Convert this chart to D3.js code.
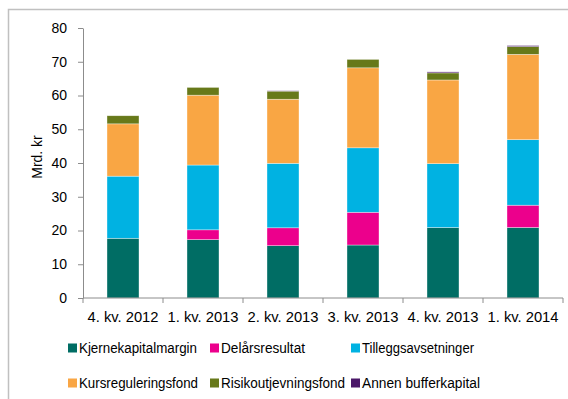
<!DOCTYPE html>
<html>
<head>
<meta charset="utf-8">
<script src="https://cdn.jsdelivr.net/npm/d3@7"></script>
<style>
  body { margin: 0; background: #fff; }
  svg { display: block; font-family: "Liberation Sans", Arial, sans-serif; }
</style>
</head>
<body>
<svg id="chart" width="568" height="399"></svg>
<script>
// Quarters on the x axis
const categories = ["4. kv. 2012", "1. kv. 2013", "2. kv. 2013", "3. kv. 2013", "4. kv. 2013", "1. kv. 2014"];

// Components of buffer capital, billion NOK
const kjernekapitalmargin = [17.7, 17.3, 15.5, 15.7, 20.9, 20.9];
const delarsresultat      = [0.0, 2.9, 5.3, 9.7, 0.0, 6.6];
const tilleggsavsetninger = [18.4, 19.2, 19.1, 19.1, 18.9, 19.4];
const kursreguleringsfond = [15.5, 20.7, 19.0, 23.7, 24.8, 25.3];
const risikoutjevningsfond = [2.4, 2.3, 2.4, 2.5, 2.1, 2.3];
const annenBufferkapital  = [0.0, 0.0, 0.1, 0.0, 0.3, 0.3];

const seriesNames = ["Kjernekapitalmargin", "Delårsresultat", "Tilleggsavsetninger",
                     "Kursreguleringsfond", "Risikoutjevningsfond", "Annen bufferkapital"];
const seriesValues = [kjernekapitalmargin, delarsresultat, tilleggsavsetninger,
                      kursreguleringsfond, risikoutjevningsfond, annenBufferkapital];
const seriesColors = ["#006d64", "#ec008c", "#00b2e2", "#f9a644", "#67791a", "#4b1869"];

const yTicks = [0, 10, 20, 30, 40, 50, 60, 70, 80];

const rows = categories.map((c, i) => {
  const r = { cat: c };
  seriesNames.forEach((s, j) => r[s] = seriesValues[j][i]);
  return r;
});

const svg = d3.select("#chart");

// outer frame
svg.append("path")
  .attr("d", "M8.5,399 V9.5 H568")
  .attr("fill", "none").attr("stroke", "#c0c0c0").attr("stroke-width", 1.5);

const x = d3.scaleBand().domain(categories).range([83, 563]).paddingInner(0.6).paddingOuter(0.3);
const y = d3.scaleLinear().domain([0, 80]).range([298, 28]);

const stacked = d3.stack().keys(seriesNames)(rows);

svg.append("g").selectAll("g")
  .data(stacked).join("g")
  .attr("fill", (d, i) => seriesColors[i])
  .selectAll("rect")
  .data(d => d.filter(p => p[1] - p[0] > 0))
  .join("rect")
  .attr("x", d => x(d.data.cat))
  .attr("width", x.bandwidth())
  .attr("y", d => y(d[1]))
  .attr("height", d => y(d[0]) - y(d[1]))
  .attr("stroke", "rgba(255,255,255,0.6)")
  .attr("stroke-width", 0.6);

// y axis
const yAxis = svg.append("g")
  .attr("transform", "translate(83,0)")
  .call(d3.axisLeft(y).tickValues(yTicks).tickSize(5).tickPadding(11).tickSizeOuter(0));
yAxis.select(".domain").attr("stroke", "#8c8c8c");
yAxis.selectAll(".tick line").attr("stroke", "#8c8c8c");
yAxis.selectAll(".tick text").attr("font-size", 14).attr("fill", "#000");

// x axis with ticks on band boundaries
const xAxisG = svg.append("g").attr("transform", "translate(0,298)");
xAxisG.append("line").attr("x1", 83).attr("x2", 563).attr("stroke", "#8c8c8c");
const step = x.step();
const bounds = d3.range(categories.length + 1).map(i => 83 + i * step);
xAxisG.selectAll("line.tk").data(bounds).join("line")
  .attr("class", "tk")
  .attr("x1", d => d).attr("x2", d => d).attr("y1", 0).attr("y2", 5)
  .attr("stroke", "#8c8c8c");
xAxisG.selectAll("text").data(categories).join("text")
  .attr("x", d => x(d) + x.bandwidth() / 2)
  .attr("y", 24)
  .attr("text-anchor", "middle")
  .attr("font-size", 14)
  .attr("textLength", 71)
  .attr("lengthAdjust", "spacingAndGlyphs")
  .text(d => d);

// y axis title
svg.append("text")
  .attr("transform", "translate(42,157) rotate(-90)")
  .attr("text-anchor", "middle")
  .attr("font-size", 14)
  .text("Mrd. kr");

// legend
const legendPos = [[68, 348], [210, 348], [351, 348], [68, 383], [210, 383], [351, 383]];
const legendWidths = [118, 84, 112, 119, 124, 118];
const lg = svg.append("g").selectAll("g").data(seriesNames).join("g")
  .attr("transform", (d, i) => `translate(${legendPos[i][0]},${legendPos[i][1]})`);
lg.append("rect").attr("x", 0).attr("y", -4.5).attr("width", 9).attr("height", 9)
  .attr("fill", (d, i) => seriesColors[i]);
lg.append("text").attr("x", 11).attr("y", 5).attr("font-size", 14)
  .attr("textLength", (d, i) => legendWidths[i])
  .attr("lengthAdjust", "spacingAndGlyphs")
  .text(d => d);
</script>
</body>
</html>
